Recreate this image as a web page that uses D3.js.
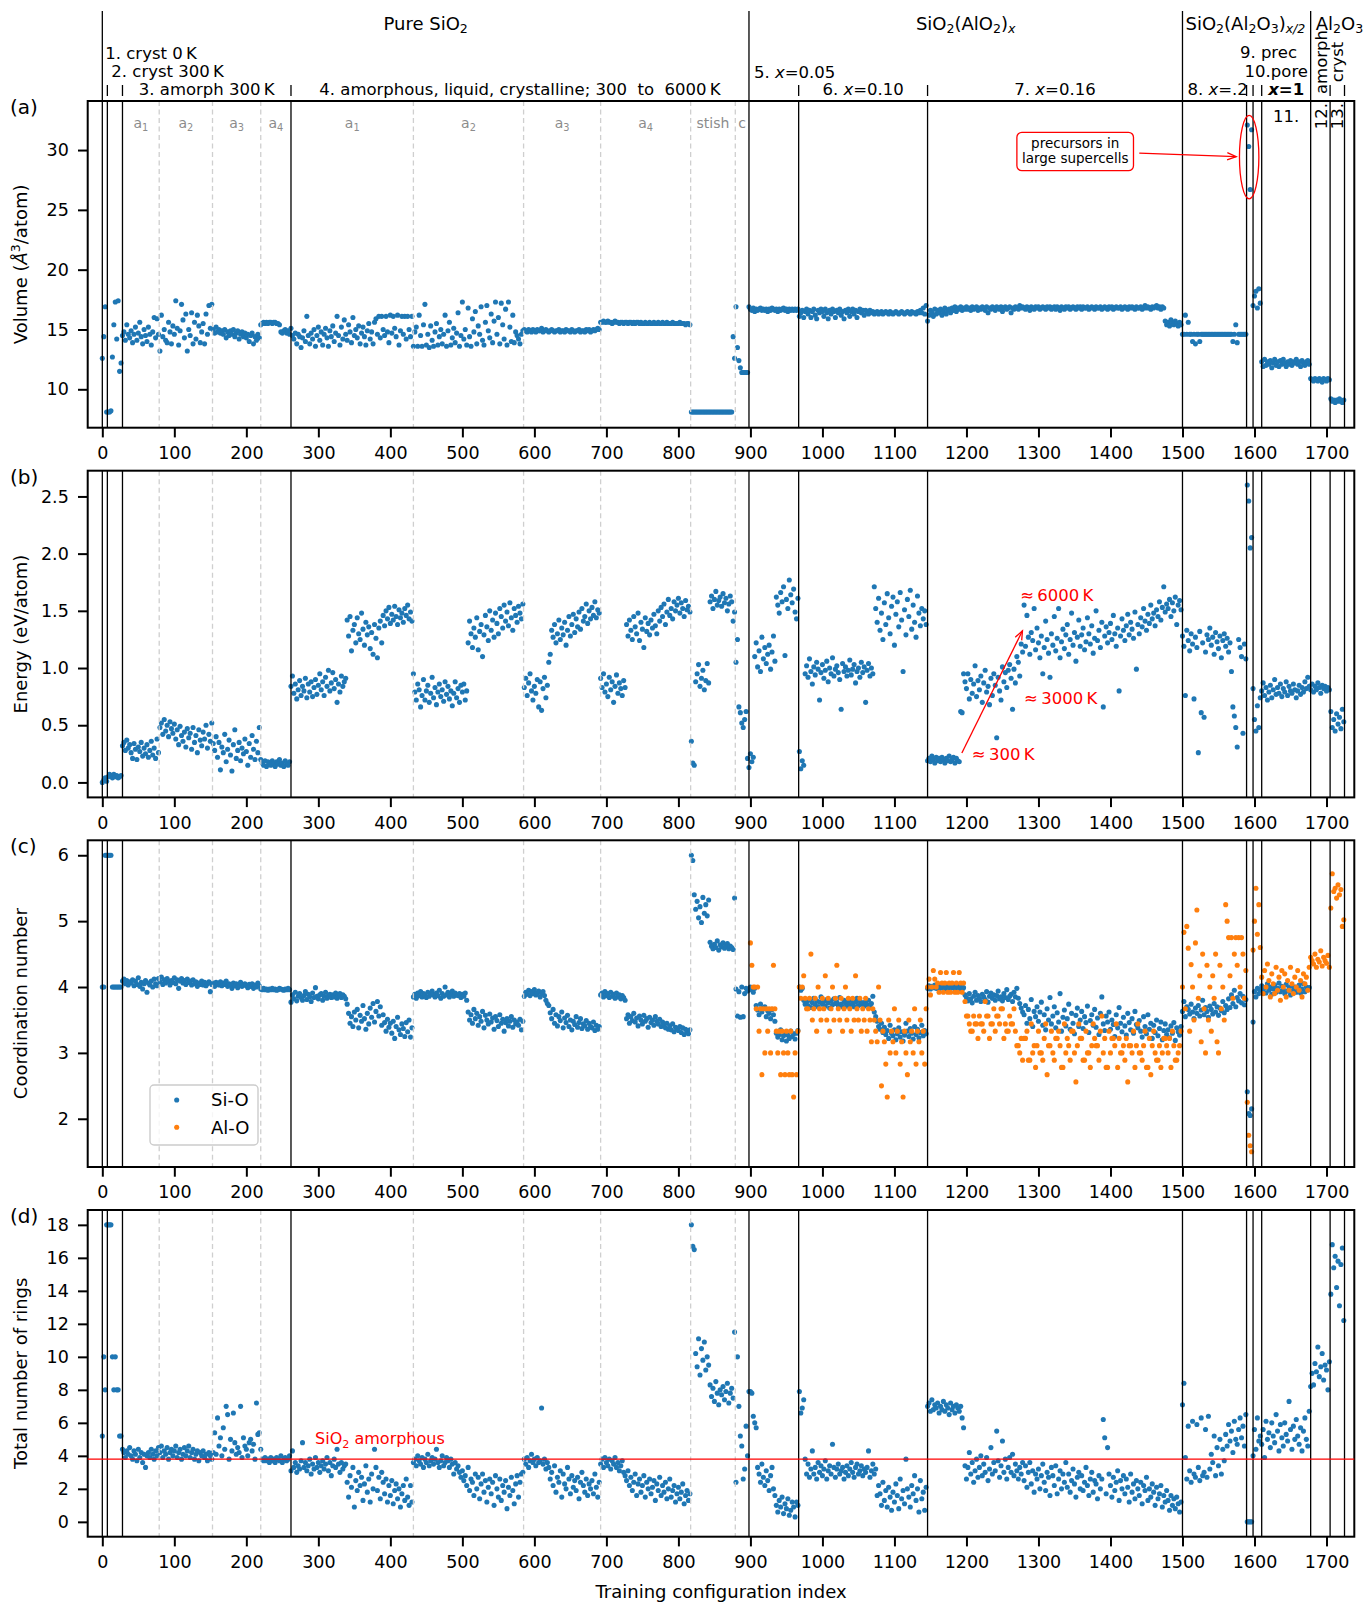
<!DOCTYPE html>
<html>
<head>
<meta charset="utf-8">
<script src="https://cdn.jsdelivr.net/npm/d3@7"></script>
<style>
  html, body { margin: 0; padding: 0; background: #fff; }
  svg { display: block; font-family: "DejaVu Sans", sans-serif; }
</style>
</head>
<body>
<svg id="chart" width="1370" height="1602"></svg>
<script>
// Values, one value every STEP configuration indices.
const STEP = 2;

const xTicks = [0, 100, 200, 300, 400, 500, 600, 700, 800, 900, 1000, 1100, 1200, 1300, 1400, 1500, 1600, 1700];
const volTicks = [10, 15, 20, 25, 30];
const energyTicks = [0, 0.5, 1.0, 1.5, 2.0, 2.5];
const coordTicks = [2, 3, 4, 5, 6];
const ringTicks = [0, 2, 4, 6, 8, 10, 12, 14, 16, 18];

// section boundaries (training configuration index)
const solidLines = [0, 7, 28, 262, 898, 967, 1146, 1500, 1589, 1598, 1610, 1678, 1705, 1725];
const dashedLines = [79, 153, 220, 432, 585, 692, 817, 879];
const longHeaderLines = [0, 898, 1500, 1678];

// volume (Å^3/atom), index 0..1724
const volume = [
/*   0 */ 12.6,14.4,16.9,8.1,8.1,8.1,8.2,12.7,15.4,17.3,
/*  20 */ 14.2,17.4,11.5,12.2,14.5,14.8,14.1,15.4,14.6,14.3,
/*  40 */ 14.9,13.9,14.6,15.2,14.1,14.7,15.6,14.4,13.8,15.0,
/*  60 */ 14.5,14.0,15.2,14.6,13.7,14.8,16.0,14.3,15.9,14.6,
/*  80 */ 13.2,16.2,14.4,15.0,14.1,13.9,15.6,14.8,13.8,15.3,
/* 100 */ 14.6,17.4,15.1,13.7,14.9,17.1,15.8,14.3,16.3,13.2,
/* 120 */ 15.0,14.5,16.4,13.8,15.6,14.2,16.2,15.3,13.9,14.8,
/* 140 */ 15.5,13.8,16.3,14.6,17.0,15.1,17.1,15.0,14.7,15.2,
/* 160 */ 14.8,15.0,14.7,14.9,14.6,15.0,14.3,14.8,14.5,14.9,
/* 180 */ 14.6,15.0,14.4,14.7,14.9,14.2,14.6,14.8,14.4,14.7,
/* 200 */ 14.3,14.6,14.0,14.5,14.7,13.8,14.4,14.1,14.6,14.3,
/* 220 */ 15.4,15.5,15.6,15.5,15.6,15.5,15.6,15.6,15.5,15.6,
/* 240 */ 15.6,15.5,15.5,15.4,14.8,14.7,14.9,15.0,14.7,14.9,
/* 260 */ 14.6,15.1,14.5,14.2,14.7,13.8,14.6,14.4,13.5,14.3,
/* 280 */ 14.9,14.0,16.1,14.5,13.8,14.7,14.2,15.0,13.6,14.5,
/* 300 */ 15.2,14.1,14.8,13.7,14.6,15.1,14.3,13.6,14.9,14.4,
/* 320 */ 15.3,14.0,14.7,16.1,14.5,13.7,15.2,14.2,15.8,14.6,
/* 340 */ 14.1,15.4,14.8,13.9,16.0,14.5,15.0,14.3,15.3,13.8,
/* 360 */ 14.7,15.2,14.4,13.7,14.9,15.5,14.2,14.8,13.8,15.6,
/* 380 */ 15.9,14.6,16.1,14.3,16.1,15.0,14.5,16.1,14.8,13.9,
/* 400 */ 16.2,14.7,16.1,15.1,14.4,16.2,13.7,14.9,16.1,14.6,
/* 420 */ 16.1,14.2,16.1,15.0,14.4,16.1,13.6,14.8,15.2,13.6,
/* 440 */ 16.2,14.5,13.6,15.4,17.1,13.7,14.6,13.5,15.3,14.1,
/* 460 */ 13.6,14.8,15.5,13.7,14.4,15.0,13.8,14.6,16.2,13.6,
/* 480 */ 14.9,15.6,13.7,14.3,15.1,13.9,14.7,16.4,13.6,14.5,
/* 500 */ 17.3,14.2,15.0,13.7,16.8,14.4,13.6,15.9,14.8,16.5,
/* 520 */ 13.8,15.3,14.6,16.9,14.1,13.7,15.6,17.0,14.9,14.3,
/* 540 */ 16.3,13.9,15.7,17.3,14.6,16.0,13.8,17.2,15.4,14.2,
/* 560 */ 16.7,13.7,17.3,15.2,14.0,16.2,13.9,14.8,14.5,14.2,
/* 580 */ 13.8,14.6,14.9,15.0,14.9,14.8,15.0,14.9,14.8,15.0,
/* 600 */ 14.9,14.8,15.0,14.9,14.9,15.1,14.8,14.9,15.0,14.9,
/* 620 */ 14.8,14.9,15.0,14.9,14.8,14.9,14.9,15.0,14.8,14.9,
/* 640 */ 14.9,14.8,15.0,14.9,14.9,14.8,15.0,14.9,14.8,14.9,
/* 660 */ 14.9,15.0,14.8,14.9,14.9,14.8,15.0,14.9,15.0,14.8,
/* 680 */ 14.9,15.0,14.9,15.0,15.1,15.0,15.6,15.6,15.7,15.6,
/* 700 */ 15.6,15.7,15.6,15.6,15.5,15.6,15.7,15.6,15.6,15.5,
/* 720 */ 15.6,15.6,15.5,15.6,15.6,15.5,15.6,15.6,15.5,15.6,
/* 740 */ 15.5,15.6,15.6,15.5,15.6,15.5,15.5,15.6,15.5,15.5,
/* 760 */ 15.6,15.5,15.5,15.6,15.5,15.5,15.6,15.5,15.5,15.6,
/* 780 */ 15.5,15.5,15.6,15.5,15.5,15.5,15.6,15.5,15.5,15.5,
/* 800 */ 15.5,15.6,15.5,15.5,15.5,15.4,15.5,15.5,15.4,8.1,
/* 820 */ 8.1,8.1,8.1,8.1,8.1,8.1,8.1,8.1,8.1,8.1,
/* 840 */ 8.1,8.1,8.1,8.1,8.1,8.1,8.1,8.1,8.1,8.1,
/* 860 */ 8.1,8.1,8.1,8.1,8.1,8.1,8.1,8.1,14.4,12.6,
/* 880 */ 16.9,13.5,12.4,11.8,11.4,11.4,11.4,11.4,11.4,16.9,
/* 900 */ 16.7,16.6,16.8,16.5,16.7,16.6,16.7,16.8,16.6,16.7,
/* 920 */ 16.6,16.7,16.5,16.7,16.6,16.8,16.7,16.6,16.7,16.5,
/* 940 */ 16.7,16.6,16.7,16.8,16.6,16.7,16.5,16.7,16.6,16.7,
/* 960 */ 16.6,16.7,16.6,16.7,16.1,16.4,16.6,16.0,16.5,16.7,
/* 980 */ 16.3,16.6,16.0,16.5,16.7,16.2,15.9,16.6,16.4,16.7,
/*1000 */ 16.5,16.1,16.7,16.4,15.9,16.6,16.3,16.7,16.5,16.0,
/*1020 */ 16.6,16.4,16.7,16.2,16.5,15.9,16.6,16.4,16.7,16.1,
/*1040 */ 16.5,16.7,16.3,16.6,16.0,16.5,16.7,16.4,16.6,16.2,
/*1060 */ 16.6,16.5,16.3,16.6,16.4,16.5,16.3,16.4,16.5,16.3,
/*1080 */ 16.4,16.5,16.3,16.4,16.5,16.4,16.3,16.5,16.4,16.3,
/*1100 */ 16.4,16.5,16.4,16.3,16.4,16.5,16.4,16.3,16.4,16.5,
/*1120 */ 16.4,16.3,16.5,16.4,16.4,16.3,16.5,16.4,16.6,16.4,
/*1140 */ 16.8,16.3,17.0,15.7,16.2,16.6,16.4,16.1,16.7,16.3,
/*1160 */ 16.6,16.4,16.7,16.2,16.5,16.8,16.3,16.6,16.7,16.4,
/*1180 */ 16.8,16.6,16.9,16.5,16.8,16.7,16.9,16.6,16.8,16.7,
/*1200 */ 16.9,16.7,16.8,16.6,16.9,16.7,16.8,16.9,16.6,16.8,
/*1220 */ 16.7,16.9,16.8,16.6,16.9,16.4,16.8,16.7,16.9,16.8,
/*1240 */ 16.6,16.9,16.8,16.7,16.9,16.5,16.8,16.9,16.7,16.8,
/*1260 */ 16.9,16.4,16.8,16.7,16.9,16.8,16.7,17.0,16.8,16.9,
/*1280 */ 16.8,16.7,16.9,16.8,16.6,16.9,16.8,16.7,16.9,16.8,
/*1300 */ 16.9,16.7,16.8,16.9,16.8,16.7,16.9,16.8,16.9,16.7,
/*1320 */ 16.8,16.9,16.7,16.9,16.8,16.6,16.9,16.8,16.7,16.9,
/*1340 */ 16.8,16.9,16.7,16.8,16.9,16.8,16.7,16.9,16.8,16.9,
/*1360 */ 16.7,16.9,16.8,16.8,16.9,16.7,16.8,16.9,16.8,16.7,
/*1380 */ 16.9,16.8,16.8,16.9,16.7,16.8,16.9,16.8,16.7,16.9,
/*1400 */ 16.8,16.9,16.7,16.8,16.9,16.8,16.8,16.9,16.7,16.8,
/*1420 */ 16.9,16.8,16.7,16.9,16.8,16.9,16.8,16.7,16.9,16.8,
/*1440 */ 16.8,16.9,16.7,16.8,17.0,16.8,16.9,16.8,16.7,16.9,
/*1460 */ 16.8,16.9,17.0,16.8,16.9,16.7,16.9,16.8,15.7,15.4,
/*1480 */ 15.6,15.3,15.8,15.5,15.4,15.7,15.5,15.3,15.6,15.4,
/*1500 */ 14.6,14.6,16.2,14.6,15.6,14.6,14.6,14.0,14.6,13.8,
/*1520 */ 14.6,14.6,14.0,14.6,14.6,14.6,14.6,14.6,14.6,14.6,
/*1540 */ 14.6,14.6,14.6,14.6,14.6,14.6,14.6,14.6,14.6,14.6,
/*1560 */ 14.6,14.6,14.6,14.6,14.6,14.0,14.6,15.4,13.9,14.6,
/*1580 */ 14.6,14.6,14.6,14.6,14.6,32.1,30.3,26.7,31.7,17.0,
/*1600 */ 17.8,18.2,16.8,18.4,17.2,12.3,11.9,12.5,12.0,12.3,
/*1620 */ 12.1,12.4,11.8,12.2,12.5,12.0,12.3,11.9,12.4,12.1,
/*1640 */ 12.5,12.2,11.9,12.3,12.1,12.4,12.0,12.3,12.2,12.5,
/*1660 */ 12.1,12.3,11.9,12.4,12.2,12.0,12.3,12.4,12.1,10.9,
/*1680 */ 10.8,10.7,10.9,10.8,10.7,10.9,10.8,10.6,10.9,10.8,
/*1700 */ 10.7,10.9,10.8,9.2,9.0,9.1,8.9,9.1,9.0,9.2,
/*1720 */ 9.0,8.9,9.1
];

// energy (eV/atom), index 0..1724
const energy = [
/*   0 */ 0.00,0.02,0.04,0.01,0.05,0.07,0.06,0.04,0.07,0.05,
/*  20 */ 0.06,0.04,0.05,0.06,0.32,0.35,0.28,0.37,0.30,0.33,
/*  40 */ 0.26,0.21,0.34,0.29,0.20,0.31,0.27,0.35,0.23,0.30,
/*  60 */ 0.25,0.33,0.22,0.28,0.36,0.24,0.30,0.21,0.38,0.26,
/*  80 */ 0.48,0.52,0.42,0.55,0.45,0.50,0.40,0.53,0.47,0.43,
/* 100 */ 0.51,0.38,0.46,0.33,0.49,0.41,0.36,0.44,0.31,0.47,
/* 120 */ 0.39,0.43,0.29,0.48,0.35,0.41,0.26,0.46,0.37,0.32,
/* 140 */ 0.44,0.38,0.50,0.30,0.42,0.36,0.52,0.34,0.28,0.40,
/* 160 */ 0.22,0.35,0.11,0.31,0.26,0.42,0.18,0.29,0.37,0.24,
/* 180 */ 0.10,0.33,0.46,0.21,0.28,0.35,0.19,0.30,0.25,0.38,
/* 200 */ 0.27,0.15,0.34,0.22,0.41,0.29,0.20,0.36,0.26,0.48,
/* 220 */ 0.20,0.17,0.15,0.19,0.14,0.18,0.16,0.15,0.19,0.17,
/* 240 */ 0.14,0.18,0.16,0.20,0.15,0.17,0.14,0.19,0.16,0.15,
/* 260 */ 0.18,0.84,0.93,0.78,0.86,0.73,0.81,0.89,0.76,0.84,
/* 280 */ 0.80,0.91,0.74,0.86,0.79,0.88,0.75,0.83,0.90,0.77,
/* 300 */ 0.85,0.95,0.81,0.88,0.76,0.92,0.84,0.98,0.80,0.87,
/* 320 */ 0.96,0.82,0.90,0.70,0.86,0.79,0.93,0.84,0.88,0.91,
/* 340 */ 1.42,1.28,1.45,1.15,1.33,1.38,1.22,1.44,1.30,1.25,
/* 360 */ 1.48,1.34,1.20,1.40,1.29,1.36,1.17,1.31,1.12,1.38,
/* 380 */ 1.26,1.09,1.35,1.41,1.22,1.46,1.37,1.50,1.43,1.53,
/* 400 */ 1.39,1.47,1.42,1.54,1.45,1.38,1.51,1.44,1.48,1.40,
/* 420 */ 1.52,1.46,1.55,1.43,1.49,1.41,0.95,0.79,0.72,0.86,
/* 440 */ 0.81,0.66,0.76,0.90,0.72,0.80,0.85,0.70,0.78,0.92,
/* 460 */ 0.74,0.83,0.68,0.79,0.86,0.75,0.81,0.71,0.88,0.77,
/* 480 */ 0.84,0.73,0.80,0.67,0.78,0.88,0.74,0.82,0.70,0.85,
/* 500 */ 0.79,0.86,0.72,0.80,1.22,1.41,1.30,1.18,1.35,1.27,
/* 520 */ 1.44,1.16,1.32,1.38,1.10,1.29,1.46,1.36,1.24,1.50,
/* 540 */ 1.33,1.42,1.27,1.48,1.39,1.30,1.52,1.45,1.35,1.55,
/* 560 */ 1.41,1.49,1.37,1.57,1.44,1.33,1.52,1.46,1.40,1.54,
/* 580 */ 1.48,1.43,1.56,0.83,0.91,0.76,0.87,0.95,0.80,0.72,
/* 600 */ 0.84,0.78,0.90,0.66,0.88,0.63,0.82,0.92,0.74,0.85,
/* 620 */ 1.05,1.12,1.33,1.27,1.38,1.22,1.30,1.42,1.25,1.35,
/* 640 */ 1.29,1.40,1.20,1.33,1.45,1.28,1.38,1.47,1.31,1.43,
/* 660 */ 1.36,1.49,1.34,1.52,1.41,1.45,1.56,1.39,1.50,1.43,
/* 680 */ 1.53,1.46,1.58,1.44,1.51,1.48,0.91,0.83,0.95,0.79,
/* 700 */ 0.86,0.75,0.92,0.81,0.88,0.70,0.84,0.94,0.78,0.87,
/* 720 */ 0.82,0.76,0.89,0.83,1.38,1.28,1.42,1.33,1.25,1.45,
/* 740 */ 1.36,1.30,1.48,1.24,1.40,1.34,1.18,1.44,1.32,1.39,
/* 760 */ 1.29,1.42,1.35,1.47,1.37,1.30,1.50,1.41,1.53,1.45,
/* 780 */ 1.56,1.38,1.49,1.60,1.46,1.52,1.43,1.58,1.50,1.55,
/* 800 */ 1.61,1.48,1.57,1.52,1.45,1.59,1.51,1.54,1.49,0.36,
/* 820 */ 0.17,0.15,0.88,0.95,1.03,0.84,0.91,0.98,0.81,0.89,
/* 840 */ 1.04,0.87,1.58,1.63,1.52,1.60,1.67,1.55,1.59,1.62,
/* 860 */ 1.54,1.65,1.57,1.61,1.50,1.56,1.63,1.58,1.41,1.49,
/* 880 */ 1.05,1.25,0.66,0.61,0.52,0.48,0.55,0.62,0.21,0.13,
/* 900 */ 0.25,0.18,0.22,1.10,1.22,1.01,1.15,0.97,1.27,1.08,
/* 920 */ 1.18,1.04,1.12,1.20,0.99,1.14,1.28,1.06,1.62,1.55,
/* 940 */ 1.48,1.66,1.58,1.71,1.11,1.60,1.52,1.77,1.64,1.57,
/* 960 */ 1.69,1.49,1.43,1.61,0.27,0.12,0.19,0.15,0.95,1.02,
/* 980 */ 0.92,1.08,0.97,0.86,1.01,0.94,1.05,0.99,0.72,0.96,
/*1000 */ 1.03,0.91,0.98,1.06,0.88,1.00,0.95,1.09,0.93,0.99,
/*1020 */ 1.02,0.96,0.90,0.64,1.04,0.97,1.01,0.93,0.98,1.07,
/*1040 */ 0.94,0.99,1.03,0.87,0.97,1.00,0.92,1.05,0.96,1.01,
/*1060 */ 0.70,0.98,1.04,0.93,1.00,0.95,1.71,1.52,1.40,1.61,
/*1080 */ 1.33,1.48,1.25,1.57,1.38,1.65,1.44,1.30,1.54,1.62,
/*1100 */ 1.20,1.47,1.58,1.36,1.66,1.42,0.97,1.51,1.29,1.60,
/*1120 */ 1.45,1.68,1.34,1.55,1.40,1.27,1.63,1.48,1.37,1.52,
/*1140 */ 1.43,1.50,1.38,0.19,0.21,0.18,0.23,0.20,0.17,0.22,
/*1160 */ 0.19,0.21,0.18,0.22,0.20,0.17,0.21,0.19,0.23,0.18,
/*1180 */ 0.20,0.22,0.17,0.21,0.19,0.18,0.62,0.61,0.95,0.88,
/*1200 */ 0.82,0.95,0.73,0.90,0.78,0.86,1.02,0.75,0.89,0.81,
/*1220 */ 0.93,0.70,0.87,0.98,0.79,0.84,0.68,0.91,0.76,0.95,
/*1240 */ 0.85,0.39,0.92,0.80,0.72,1.01,0.88,0.96,0.83,0.98,
/*1260 */ 1.03,0.91,0.64,0.99,0.87,1.10,1.05,0.93,1.21,1.14,
/*1280 */ 1.55,1.19,1.46,1.27,1.12,1.31,1.24,1.52,1.16,1.35,
/*1300 */ 1.22,1.09,1.28,0.95,1.18,1.41,1.25,1.13,0.92,1.30,
/*1320 */ 1.20,1.45,1.15,1.26,1.52,1.09,1.23,1.34,1.17,1.29,
/*1340 */ 1.38,1.12,1.25,1.48,1.20,1.31,1.06,1.27,1.42,1.19,
/*1360 */ 1.29,1.35,1.16,1.23,1.44,1.30,1.21,1.37,1.13,1.26,
/*1380 */ 1.50,1.24,1.33,1.18,1.40,0.66,1.28,1.36,1.22,1.31,
/*1400 */ 1.39,1.25,1.46,1.30,1.19,1.35,0.80,1.28,1.43,1.33,
/*1420 */ 1.24,1.37,1.47,1.29,1.40,1.34,1.26,1.49,0.99,1.38,
/*1440 */ 1.30,1.44,1.36,1.52,1.41,1.33,1.47,1.39,1.55,1.43,
/*1460 */ 1.48,1.37,1.51,1.45,1.58,1.42,1.53,1.71,1.49,1.56,
/*1480 */ 1.52,1.60,1.45,1.57,1.50,1.62,1.38,1.55,1.59,1.51,
/*1500 */ 1.28,1.19,0.76,1.33,1.24,1.15,1.30,1.21,0.73,1.27,
/*1520 */ 1.18,0.26,1.32,0.61,1.22,0.57,1.14,1.29,1.25,1.35,
/*1540 */ 1.20,1.27,1.12,1.31,1.23,1.17,1.28,1.09,1.24,1.30,
/*1560 */ 1.19,1.26,1.14,1.22,0.97,0.66,0.58,0.48,0.31,1.25,
/*1580 */ 1.18,1.10,0.43,1.21,1.08,2.60,2.46,2.05,2.14,0.82,
/*1600 */ 0.55,0.45,0.67,0.48,0.74,0.80,0.87,0.76,0.83,0.72,
/*1620 */ 0.79,0.85,0.74,0.81,0.90,0.77,0.83,0.78,0.86,0.75,
/*1640 */ 0.82,0.79,0.88,0.76,0.84,0.80,0.78,0.86,0.81,0.74,
/*1660 */ 0.80,0.85,0.77,0.83,0.79,0.88,0.82,0.92,0.84,0.81,
/*1680 */ 0.86,0.79,0.84,0.81,0.87,0.83,0.78,0.85,0.82,0.84,
/*1700 */ 0.80,0.83,0.81,0.62,0.48,0.55,0.45,0.60,0.51,0.57,
/*1720 */ 0.47,0.64,0.53
];

// Si-O coordination number, index 0..1676
const coordSiO = [
/*   0 */ 4.00,4.00,6.00,6.00,6.00,6.00,6.00,4.00,4.00,4.00,
/*  20 */ 4.00,4.00,4.00,4.00,4.09,4.12,4.05,4.10,4.03,4.08,
/*  40 */ 4.06,4.11,4.02,4.09,4.04,4.14,4.01,4.07,3.97,4.05,
/*  60 */ 4.10,3.92,4.06,4.03,4.09,4.00,4.12,4.05,4.02,4.13,
/*  80 */ 4.08,4.15,4.04,4.11,4.06,4.13,4.09,4.03,4.10,4.07,
/* 100 */ 4.14,4.05,4.11,3.98,4.09,4.13,4.06,4.10,4.04,4.12,
/* 120 */ 4.07,4.09,4.03,4.11,4.05,4.08,4.01,4.06,4.04,4.09,
/* 140 */ 4.03,4.07,4.02,4.05,4.08,3.93,4.04,4.06,4.01,4.07,
/* 160 */ 4.05,4.03,4.08,4.02,4.06,4.04,4.09,4.01,4.05,4.03,
/* 180 */ 3.98,4.06,4.02,4.05,3.99,4.04,4.07,4.01,4.03,4.05,
/* 200 */ 4.02,3.99,4.04,4.01,4.05,3.98,4.03,4.00,4.06,4.02,
/* 220 */ 3.97,3.96,3.98,3.96,3.97,3.95,3.97,3.96,3.98,3.96,
/* 240 */ 3.97,3.95,3.96,3.98,3.97,3.96,3.95,3.97,3.96,3.98,
/* 260 */ 3.96,3.77,3.88,3.82,3.92,3.79,3.86,3.90,3.84,3.80,
/* 280 */ 3.87,3.93,3.81,3.89,3.85,3.78,3.91,3.84,3.99,3.86,
/* 300 */ 3.82,3.88,3.90,3.80,3.86,3.92,3.83,3.87,3.89,3.84,
/* 320 */ 3.88,3.85,3.91,3.83,3.87,3.90,3.84,3.88,3.86,3.82,
/* 340 */ 3.74,3.60,3.45,3.55,3.40,3.62,3.50,3.66,3.38,3.57,
/* 360 */ 3.48,3.72,3.52,3.36,3.60,3.44,3.68,3.54,3.75,3.47,
/* 380 */ 3.63,3.78,3.56,3.70,3.42,3.58,3.46,3.33,3.51,3.39,
/* 400 */ 3.45,3.30,3.48,3.22,3.40,3.54,3.35,3.28,3.44,3.37,
/* 420 */ 3.25,3.46,3.32,3.50,3.24,3.38,3.85,3.89,3.83,3.91,
/* 440 */ 3.87,3.93,3.85,3.90,3.88,3.84,3.92,3.86,3.89,3.94,
/* 460 */ 3.88,3.85,3.91,3.87,3.95,3.83,3.90,3.86,4.00,3.88,
/* 480 */ 3.92,3.85,3.89,3.94,3.86,3.91,3.88,3.87,3.90,3.84,
/* 500 */ 3.89,3.86,3.91,3.80,3.62,3.50,3.58,3.45,3.66,3.52,
/* 520 */ 3.60,3.42,3.55,3.48,3.63,3.38,3.57,3.50,3.44,3.59,
/* 540 */ 3.47,3.53,3.36,3.55,3.49,3.40,3.58,3.45,3.51,3.33,
/* 560 */ 3.46,3.52,3.41,3.48,3.55,3.39,3.50,3.44,3.47,3.42,
/* 580 */ 3.51,3.35,3.48,3.86,3.92,3.89,3.95,3.87,3.93,3.90,
/* 600 */ 3.96,3.88,3.91,3.94,3.85,3.90,3.93,3.87,3.80,3.75,
/* 620 */ 3.72,3.61,3.52,3.66,3.45,3.58,3.41,3.55,3.49,3.62,
/* 640 */ 3.38,3.53,3.46,3.57,3.40,3.50,3.35,3.48,3.43,3.55,
/* 660 */ 3.39,3.46,3.52,3.37,3.44,3.41,3.49,3.36,3.45,3.40,
/* 680 */ 3.38,3.47,3.34,3.42,3.36,3.40,3.88,3.91,3.85,3.93,
/* 700 */ 3.87,3.90,3.84,3.92,3.86,3.89,3.83,3.91,3.85,3.88,
/* 720 */ 3.82,3.87,3.84,3.80,3.52,3.58,3.45,3.55,3.49,3.60,
/* 740 */ 3.47,3.53,3.41,3.56,3.50,3.44,3.57,3.48,3.52,3.39,
/* 760 */ 3.54,3.46,3.50,3.42,3.55,3.48,3.44,3.51,3.40,3.47,
/* 780 */ 3.43,3.38,3.45,3.36,3.41,3.35,3.44,3.32,3.39,3.37,
/* 800 */ 3.34,3.40,3.31,3.38,3.28,3.36,3.33,3.29,3.35,6.00,
/* 820 */ 5.92,5.40,5.18,5.30,5.05,5.22,4.98,5.36,5.12,5.25,
/* 840 */ 5.08,5.32,4.68,4.62,4.58,4.65,4.60,4.70,4.56,4.64,
/* 860 */ 4.61,4.67,4.59,4.63,4.66,4.58,4.62,4.60,4.57,5.35,
/* 880 */ 3.97,3.56,3.93,3.54,4.00,3.55,3.90,3.98,3.94,3.97,
/* 900 */ 4.00,3.96,3.92,3.98,3.72,3.65,3.58,3.74,3.62,3.68,
/* 920 */ 3.70,3.55,3.64,3.60,3.52,3.66,3.58,3.48,3.30,3.24,
/* 940 */ 3.28,3.35,3.20,3.26,3.31,3.18,3.27,3.22,3.33,3.25,
/* 960 */ 3.29,3.21,3.30,3.34,4.00,3.95,3.98,3.80,3.74,3.78,
/* 980 */ 3.72,3.80,3.69,3.76,3.83,3.73,3.79,3.70,3.77,3.85,
/*1000 */ 3.74,3.78,3.71,3.81,3.76,3.68,3.79,3.73,3.82,3.75,
/*1020 */ 3.77,3.72,3.84,3.74,3.70,3.80,3.76,3.71,3.78,3.73,
/*1040 */ 3.81,3.75,3.70,3.77,3.83,3.72,3.79,3.74,3.76,3.71,
/*1060 */ 3.78,3.73,3.80,3.69,3.75,3.86,3.62,3.55,3.48,3.40,
/*1080 */ 3.36,3.45,3.31,3.39,3.28,3.34,3.22,3.42,3.30,3.26,
/*1100 */ 3.35,3.20,3.29,3.38,3.24,3.32,3.18,3.27,3.45,3.33,
/*1120 */ 3.25,3.37,3.30,3.21,3.40,3.28,3.36,3.23,3.31,3.42,
/*1140 */ 3.26,3.34,3.29,3.98,4.02,3.97,4.01,3.99,4.03,3.98,
/*1160 */ 4.00,3.96,4.02,3.99,4.01,3.97,4.03,4.00,3.98,4.02,
/*1180 */ 3.99,4.01,3.97,4.00,4.02,3.98,4.00,3.96,3.99,3.88,
/*1200 */ 3.84,3.79,3.90,3.82,3.76,3.86,3.92,3.80,3.87,3.83,
/*1220 */ 3.78,3.89,3.85,3.81,3.93,3.77,3.86,3.91,3.83,3.88,
/*1240 */ 3.80,3.87,3.94,3.82,3.85,3.79,3.90,3.84,3.96,3.81,
/*1260 */ 3.86,3.89,3.78,3.92,3.85,3.98,3.83,3.75,3.68,3.62,
/*1280 */ 3.58,3.72,3.45,3.66,3.52,3.81,3.40,3.63,3.55,3.70,
/*1300 */ 3.48,3.62,3.77,3.42,3.58,3.35,3.67,3.50,3.84,3.44,
/*1320 */ 3.56,3.70,3.38,3.61,3.47,3.90,3.33,3.54,3.65,3.41,
/*1340 */ 3.52,3.74,3.36,3.60,3.45,3.29,3.57,3.68,3.40,3.50,
/*1360 */ 3.63,3.37,3.55,3.46,3.71,3.31,3.49,3.58,3.42,3.66,
/*1380 */ 3.39,3.53,3.28,3.60,3.85,3.44,3.34,3.56,3.47,3.62,
/*1400 */ 3.36,3.50,3.43,3.25,3.58,3.38,3.69,3.45,3.32,3.54,
/*1420 */ 3.41,3.27,3.60,3.46,3.35,3.52,3.30,3.63,3.43,3.38,
/*1440 */ 3.49,3.33,3.24,3.55,3.40,3.29,3.58,3.36,3.45,3.22,
/*1460 */ 3.42,3.31,3.50,3.26,3.37,3.47,3.20,3.34,3.44,3.28,
/*1480 */ 3.35,3.23,3.41,3.30,3.46,3.19,3.38,3.32,3.27,3.40,
/*1500 */ 3.63,3.78,3.55,3.70,3.66,3.59,3.74,3.62,3.52,3.68,
/*1520 */ 3.60,3.72,3.56,3.65,3.80,3.58,3.69,3.63,3.54,3.71,
/*1540 */ 3.66,3.59,3.75,3.62,3.70,3.57,3.68,3.64,3.78,3.61,
/*1560 */ 3.72,3.66,3.82,3.69,3.88,3.75,3.95,3.70,3.84,3.79,
/*1580 */ 3.90,3.76,3.86,3.73,3.81,2.41,2.08,2.05,2.15,3.47,
/*1600 */ 3.93,3.85,3.98,3.90,3.96,4.02,3.94,3.99,3.91,4.05,
/*1620 */ 3.95,4.00,3.89,3.97,4.03,3.92,3.98,4.06,3.93,4.01,
/*1640 */ 3.96,3.90,4.04,3.94,3.99,3.88,4.02,3.95,4.00,3.92,
/*1660 */ 3.98,4.03,3.91,3.97,4.05,3.93,4.00,3.96,3.99
];

// Al-O coordination number, index 900..1724
const alStart = 900;
const coordAlO = [
/* 900 */ 4.67,4.33,4.00,4.00,3.67,4.00,3.33,3.67,2.67,3.67,
/* 920 */ 3.00,3.67,3.33,3.67,3.00,3.67,4.33,3.67,3.33,3.00,
/* 940 */ 3.33,2.67,3.33,3.00,2.67,3.33,3.00,2.67,3.33,2.67,
/* 960 */ 2.33,3.00,2.67,3.33,4.00,3.83,4.00,4.17,3.83,3.67,
/* 980 */ 3.67,3.83,4.50,3.50,3.67,3.83,3.33,4.00,3.67,3.50,
/*1000 */ 3.83,3.67,4.17,3.50,3.83,3.33,3.67,4.00,3.50,3.83,
/*1020 */ 4.33,3.67,3.50,3.83,3.33,3.67,4.00,3.50,3.83,3.67,
/*1040 */ 3.33,3.83,3.50,4.17,3.67,3.50,3.83,3.33,3.67,3.50,
/*1060 */ 3.83,3.33,3.67,3.50,3.17,3.67,3.50,3.33,3.17,4.00,
/*1080 */ 3.50,2.50,3.33,3.17,2.83,2.33,3.50,3.00,3.33,3.17,
/*1100 */ 3.67,3.00,3.33,3.50,2.83,3.17,2.33,3.33,3.00,2.67,
/*1120 */ 3.50,3.17,3.33,3.00,3.67,2.83,3.33,3.17,3.50,3.00,
/*1140 */ 3.33,2.83,3.67,4.00,4.12,3.88,4.00,4.25,4.12,4.00,
/*1160 */ 4.06,3.92,4.22,4.06,3.92,4.06,4.22,3.92,4.06,3.92,
/*1180 */ 4.06,4.22,3.92,4.06,3.92,4.22,4.06,3.92,4.06,3.78,
/*1200 */ 3.56,3.56,3.44,3.33,3.33,3.56,3.44,3.44,3.22,3.56,
/*1220 */ 3.44,3.44,3.33,3.78,3.56,3.56,3.22,3.44,3.44,3.67,
/*1240 */ 3.33,3.56,3.56,3.44,3.67,3.67,3.22,3.44,3.33,3.33,
/*1260 */ 3.56,3.44,3.44,3.67,3.33,3.11,3.11,3.00,3.22,2.89,
/*1280 */ 3.22,3.22,3.33,2.89,2.89,3.44,3.00,3.11,2.78,3.11,
/*1300 */ 3.33,3.00,3.00,2.89,3.22,3.44,2.67,3.11,3.11,3.33,
/*1320 */ 3.00,2.89,3.22,3.22,3.33,3.11,2.78,2.78,3.44,3.00,
/*1340 */ 3.22,3.11,2.89,3.33,3.33,3.00,2.56,3.11,3.44,3.22,
/*1360 */ 3.22,2.89,2.89,3.33,3.00,3.00,2.78,3.11,3.44,3.22,
/*1380 */ 3.11,3.11,2.89,3.33,3.56,3.00,3.22,2.78,2.78,3.33,
/*1400 */ 3.00,3.22,3.22,3.11,3.44,2.78,3.22,3.00,3.00,3.11,
/*1420 */ 2.89,3.22,2.56,3.11,3.11,3.00,3.33,2.78,3.11,3.44,
/*1440 */ 3.00,3.00,2.89,3.11,3.33,2.78,2.78,3.22,2.67,3.11,
/*1460 */ 3.33,3.00,2.89,2.89,3.11,2.78,3.00,3.22,3.22,3.11,
/*1480 */ 3.00,3.22,2.78,3.33,3.11,2.89,2.89,3.00,3.11,3.33,
/*1500 */ 4.00,4.83,3.67,4.92,4.59,3.33,4.34,4.00,3.50,4.67,
/*1520 */ 5.17,3.83,4.17,3.17,4.50,3.67,3.00,4.33,3.50,4.00,
/*1540 */ 3.33,4.17,3.83,4.50,3.17,3.00,4.33,3.67,4.00,3.50,
/*1560 */ 5.25,5.00,4.75,4.17,4.75,3.83,4.50,4.75,4.33,4.75,
/*1580 */ 4.00,4.75,4.50,3.83,4.25,2.25,1.75,1.59,1.50,4.56,
/*1600 */ 5.00,5.50,4.80,5.25,4.60,4.15,3.90,4.25,4.00,4.35,
/*1620 */ 4.10,3.85,4.20,4.05,3.90,4.30,3.95,4.15,3.80,4.25,
/*1640 */ 4.00,4.20,3.85,4.10,3.95,4.30,4.05,3.90,4.15,4.00,
/*1660 */ 4.25,3.95,4.10,3.85,4.20,4.05,4.15,3.95,4.30,4.45,
/*1680 */ 4.40,4.35,4.50,4.30,4.42,4.38,4.55,4.32,4.45,4.40,
/*1700 */ 4.36,4.48,4.30,5.20,5.72,5.45,5.50,5.35,5.55,5.40,
/*1720 */ 5.48,4.92,5.02
];

// total number of rings, index 0..1724
const rings = [
/*   0 */ 5.2,10.0,8.0,18.0,18.0,18.0,18.0,10.0,8.0,10.0,
/*  20 */ 8.0,8.0,5.2,5.2,4.4,4.2,3.9,4.3,4.1,4.5,
/*  40 */ 4.0,3.8,4.3,4.1,3.7,4.4,3.9,4.2,3.6,4.1,
/*  60 */ 3.3,4.0,4.2,3.9,4.4,4.1,3.8,4.3,4.0,4.5,
/*  80 */ 4.2,4.6,3.9,4.3,4.1,4.5,3.8,4.2,4.4,4.0,
/* 100 */ 4.3,4.6,3.9,4.2,4.4,3.8,4.1,4.5,4.0,4.3,
/* 120 */ 4.6,3.9,4.2,4.4,3.8,4.1,4.3,3.7,4.2,4.0,
/* 140 */ 4.3,3.9,4.1,3.7,4.2,4.0,3.8,4.2,5.4,4.1,
/* 160 */ 6.3,4.6,5.1,4.0,5.7,4.4,7.0,6.5,3.8,5.0,
/* 180 */ 4.3,6.6,4.8,4.1,4.5,4.2,7.0,3.9,5.1,4.6,
/* 200 */ 4.4,4.0,4.8,5.0,4.3,4.7,3.8,7.2,5.3,5.4,
/* 220 */ 4.4,3.8,3.7,3.9,3.7,3.8,3.6,3.9,3.7,3.8,
/* 240 */ 3.6,3.9,3.8,3.7,4.0,3.6,3.8,3.9,3.7,3.8,
/* 260 */ 4.0,3.1,4.3,3.3,3.6,3.0,3.4,3.2,3.7,4.8,
/* 280 */ 3.3,3.6,3.1,3.4,3.8,2.9,3.5,3.2,3.9,3.3,
/* 300 */ 3.6,3.0,3.4,3.7,3.2,3.5,3.9,3.1,3.6,2.8,
/* 320 */ 3.4,3.8,3.3,4.4,3.5,3.0,3.6,3.2,3.4,3.5,
/* 340 */ 2.4,1.5,2.8,2.1,3.3,0.9,2.5,1.9,3.0,2.2,
/* 360 */ 2.7,1.3,2.3,3.4,1.8,2.6,1.2,2.9,2.0,4.4,
/* 380 */ 3.3,1.9,2.7,1.4,3.0,2.4,1.7,2.6,1.2,2.2,
/* 400 */ 1.6,2.5,1.1,1.9,2.3,1.4,2.0,0.9,1.7,2.2,
/* 420 */ 1.3,2.6,1.5,1.0,2.2,1.2,3.6,3.8,3.4,4.0,
/* 440 */ 3.7,3.5,3.9,3.3,3.8,3.6,4.1,3.4,3.7,3.9,
/* 460 */ 3.5,3.8,4.4,3.6,3.3,3.7,4.0,3.4,3.6,3.9,
/* 480 */ 3.7,3.3,3.8,3.5,2.9,3.6,3.2,3.4,3.0,2.7,
/* 500 */ 3.1,2.5,2.8,2.2,3.3,1.9,2.6,2.4,1.6,2.9,
/* 520 */ 2.0,2.7,1.4,2.3,2.9,1.8,2.5,1.2,2.1,2.6,
/* 540 */ 1.7,2.4,1.0,2.8,2.0,1.5,2.6,1.3,2.2,1.8,
/* 560 */ 2.5,0.8,2.1,1.6,2.7,1.9,1.1,2.3,2.8,1.5,
/* 580 */ 2.4,2.9,3.0,3.8,3.5,3.9,3.3,3.7,4.1,3.6,
/* 600 */ 3.8,3.4,3.9,3.6,3.7,6.9,3.5,3.8,3.2,3.6,
/* 620 */ 3.3,2.6,3.0,2.2,3.4,1.8,2.7,2.4,3.1,1.5,
/* 640 */ 2.9,2.3,2.0,3.3,2.6,1.7,2.8,2.1,2.5,1.9,
/* 660 */ 2.7,1.4,2.4,3.0,2.2,1.8,2.6,1.6,2.3,2.0,
/* 680 */ 2.5,1.7,2.9,2.1,1.5,2.4,3.5,3.8,3.3,3.9,
/* 700 */ 3.6,3.4,3.8,3.2,3.7,3.5,3.9,3.3,3.6,3.1,
/* 720 */ 3.4,3.7,3.0,2.8,2.5,3.1,2.2,2.7,1.9,2.4,
/* 740 */ 2.9,1.6,2.3,2.6,1.8,2.2,2.8,1.5,2.4,2.0,
/* 760 */ 2.6,1.7,2.1,2.5,1.3,2.3,1.9,2.7,1.6,2.2,
/* 780 */ 1.8,2.4,1.4,2.0,2.6,1.5,1.9,2.2,1.2,1.7,
/* 800 */ 2.1,1.4,1.8,2.3,1.1,1.6,1.9,1.3,1.7,18.0,
/* 820 */ 16.7,16.5,10.2,9.4,11.1,8.9,10.5,9.8,10.9,9.2,
/* 840 */ 10.0,9.5,8.3,7.6,8.1,7.3,8.5,7.8,7.1,8.0,
/* 860 */ 7.7,8.2,7.4,7.9,8.4,7.2,7.8,8.1,7.5,11.5,
/* 880 */ 2.4,10.0,7.0,5.2,4.6,2.6,3.2,5.8,4.0,7.9,
/* 900 */ 7.9,7.8,6.4,6.0,5.7,3.3,2.9,2.4,3.5,2.7,
/* 920 */ 2.2,3.1,2.5,1.9,2.8,3.3,2.0,1.6,1.0,0.6,
/* 940 */ 1.3,0.9,1.5,0.5,1.1,0.8,1.4,0.4,0.7,1.2,
/* 960 */ 0.9,0.3,1.2,1.0,7.9,6.6,6.9,7.4,3.8,2.9,
/* 980 */ 3.5,2.7,3.2,4.3,2.9,3.3,2.6,3.6,3.0,3.4,
/*1000 */ 2.8,3.2,3.7,2.6,3.1,3.4,2.9,4.7,3.3,2.7,
/*1020 */ 3.2,3.5,2.9,3.1,3.3,2.6,3.0,3.4,2.8,3.2,
/*1040 */ 3.6,3.0,2.7,3.3,3.5,2.9,3.1,3.4,2.8,3.2,
/*1060 */ 3.0,3.3,4.3,2.7,3.1,3.5,2.9,3.2,1.6,2.2,
/*1080 */ 1.7,1.0,2.4,1.3,1.9,0.9,2.1,1.5,0.7,1.8,
/*1100 */ 1.2,2.3,1.6,0.8,2.6,1.4,1.9,1.1,3.8,2.0,
/*1120 */ 1.5,0.9,2.2,1.7,2.8,1.3,2.0,0.6,2.5,1.4,
/*1140 */ 1.8,0.7,2.1,7.0,7.2,6.7,7.4,6.8,7.1,6.9,
/*1160 */ 7.2,6.6,7.0,6.8,7.3,6.7,7.1,6.9,6.5,7.2,
/*1180 */ 6.8,7.0,6.6,7.1,6.9,6.7,7.0,6.3,5.7,3.4,
/*1200 */ 2.6,3.3,4.2,2.9,3.6,2.4,3.1,3.8,2.7,3.3,
/*1220 */ 4.0,2.8,3.5,3.0,3.9,2.5,3.2,4.5,2.9,3.6,
/*1240 */ 3.1,5.5,3.7,2.7,3.4,4.9,3.0,3.8,2.6,3.3,
/*1260 */ 3.9,3.0,4.1,2.8,3.5,3.1,2.6,3.3,2.9,3.6,
/*1280 */ 2.5,3.4,2.1,3.0,3.6,2.3,3.1,1.8,2.9,2.6,
/*1300 */ 3.2,2.0,2.8,3.5,2.4,1.9,3.0,2.7,1.6,3.3,
/*1320 */ 2.8,2.2,3.4,1.7,2.6,3.1,2.0,2.9,2.4,3.6,
/*1340 */ 2.1,2.9,1.8,2.5,3.2,2.3,1.5,2.7,3.0,2.0,
/*1360 */ 2.8,1.9,2.4,3.3,2.2,1.6,2.6,3.0,1.8,2.5,
/*1380 */ 2.3,1.4,2.8,2.0,2.6,6.2,5.1,1.7,4.5,2.9,
/*1400 */ 2.2,1.5,2.7,1.9,2.4,3.1,1.3,2.5,2.0,2.8,
/*1420 */ 1.7,2.6,2.1,1.2,2.9,1.8,2.3,1.4,2.5,2.0,
/*1440 */ 1.6,2.4,1.1,2.2,1.9,2.7,1.3,2.0,1.5,2.3,
/*1460 */ 1.8,1.0,2.1,1.4,1.7,2.2,0.9,1.6,1.2,1.9,
/*1480 */ 1.3,0.7,1.6,1.0,1.4,0.8,1.5,1.1,0.6,1.2,
/*1500 */ 7.1,8.4,3.9,2.6,5.8,3.1,2.4,6.1,2.9,2.7,
/*1520 */ 5.9,3.3,2.5,6.3,2.8,3.0,5.6,2.7,6.4,3.2,
/*1540 */ 4.1,3.6,5.2,2.8,4.5,3.4,5.0,2.9,4.4,3.7,
/*1560 */ 5.3,4.6,5.9,4.9,5.5,4.2,6.1,5.0,4.7,5.6,
/*1580 */ 6.3,5.1,5.8,4.6,6.5,0.0,0.0,0.0,0.0,4.0,
/*1600 */ 5.6,4.4,6.3,4.9,5.2,4.7,5.6,3.9,6.1,5.0,
/*1620 */ 5.4,4.5,6.0,5.2,4.8,6.5,5.5,4.3,5.9,5.1,
/*1640 */ 4.6,6.0,5.3,4.9,7.3,5.6,4.4,5.8,5.0,6.2,
/*1660 */ 5.2,4.7,5.7,4.3,5.5,6.3,5.0,4.6,6.7,8.2,
/*1680 */ 9.0,8.3,9.6,9.1,10.6,8.8,9.4,10.2,8.6,9.5,
/*1700 */ 9.2,8.0,9.7,13.8,16.8,15.4,16.1,14.2,15.8,13.1,
/*1720 */ 15.6,16.6,12.2
];

const amorphousRings = 3.8;

(function () {
  const BLUE = '#1f77b4';
  const ORANGE = '#ff7f0e';
  const FONT = 17.5;
  const R = 2.55;

  const svg = d3.select('#chart');

  const x = d3.scaleLinear().domain([-20.3, 1738.6]).range([87.7, 1354.3]);
  const X0 = x.range()[0], X1 = x.range()[1];
  const PANEL_H = 326.7;

  const toPoints = (arr, start) => arr
    .map((v, k) => ({ i: start + k * STEP, v }))
    .filter((d) => d.v != null);

  // text with sub/superscript / italic / bold runs; style is a space separated list
  function rich(g, px, py, parts, opts) {
    opts = opts || {};
    const fs = opts.size || FONT;
    const t = g.append('text')
      .attr('x', px).attr('y', py)
      .attr('font-size', fs)
      .attr('fill', opts.color || '#000')
      .attr('text-anchor', opts.anchor || 'start');
    if (opts.transform) t.attr('transform', opts.transform);
    let shift = 0;
    parts.forEach((p) => {
      const s = typeof p === 'string' ? p : p[0];
      const k = typeof p === 'string' ? [] : p[1].split(' ');
      const ts = t.append('tspan').text(s);
      let target = 0;
      if (k.includes('sub')) target = 0.22 * fs;
      if (k.includes('sup')) target = -0.38 * fs;
      if (target !== shift) ts.attr('dy', target - shift);
      shift = target;
      if (k.includes('sub') || k.includes('sup')) ts.attr('font-size', fs * 0.7);
      if (k.includes('it')) ts.attr('font-style', 'italic');
      if (k.includes('bold')) ts.attr('font-weight', 'bold');
    });
    return t;
  }

  function arrow(g, x1, y1, x2, y2, color) {
    g.append('line')
      .attr('x1', x1).attr('y1', y1).attr('x2', x2).attr('y2', y2)
      .attr('stroke', color).attr('stroke-width', 1.3);
    const a = Math.atan2(y2 - y1, x2 - x1);
    const L = 9, W = 3.6;
    const p1 = [x2 - L * Math.cos(a) + W * Math.sin(a), y2 - L * Math.sin(a) - W * Math.cos(a)];
    const p2 = [x2 - L * Math.cos(a) - W * Math.sin(a), y2 - L * Math.sin(a) + W * Math.cos(a)];
    g.append('polyline')
      .attr('points', `${p1.join(',')} ${x2},${y2} ${p2.join(',')}`)
      .attr('fill', 'none').attr('stroke', color).attr('stroke-width', 1.3);
  }

  const panels = [
    {
      tag: '(a)', top: 101, domain: [6.79, 34.1], ticks: volTicks, fmt: (d) => d,
      ylabel: ['Volume (', ['Å', 'it'], ['3', 'sup'], '/atom)'],
      series: [{ pts: toPoints(volume, 0), color: BLUE }]
    },
    {
      tag: '(b)', top: 470.7, domain: [-0.131, 2.725], ticks: energyTicks, fmt: (d) => d.toFixed(1),
      ylabel: ['Energy (eV/atom)'],
      series: [{ pts: toPoints(energy, 0), color: BLUE }]
    },
    {
      tag: '(c)', top: 840.3, domain: [1.268, 6.227], ticks: coordTicks, fmt: (d) => d,
      ylabel: ['Coordination number'],
      series: [
        { pts: toPoints(coordSiO, 0), color: BLUE, name: 'Si-O' },
        { pts: toPoints(coordAlO, alStart), color: ORANGE, name: 'Al-O' }
      ]
    },
    {
      tag: '(d)', top: 1210, domain: [-0.9, 18.9], ticks: ringTicks, fmt: (d) => d,
      ylabel: ['Total number of rings'],
      series: [{ pts: toPoints(rings, 0), color: BLUE }]
    }
  ];

  panels.forEach((p) => {
    const y = d3.scaleLinear().domain(p.domain).range([p.top + PANEL_H, p.top]);
    p.y = y;
    const g = svg.append('g');

    // points
    p.series.forEach((s) => {
      g.append('g').selectAll('circle')
        .data(s.pts)
        .join('circle')
        .attr('cx', (d) => x(d.i))
        .attr('cy', (d) => y(d.v))
        .attr('r', R)
        .attr('fill', s.color);
    });

    // section lines
    g.append('g').selectAll('line')
      .data(dashedLines)
      .join('line')
      .attr('x1', (d) => x(d)).attr('x2', (d) => x(d))
      .attr('y1', p.top).attr('y2', p.top + PANEL_H)
      .attr('stroke', '#cfcfcf').attr('stroke-width', 1.3)
      .attr('stroke-dasharray', '5,3.5');
    g.append('g').selectAll('line')
      .data(solidLines)
      .join('line')
      .attr('x1', (d) => x(d)).attr('x2', (d) => x(d))
      .attr('y1', p.top).attr('y2', p.top + PANEL_H)
      .attr('stroke', '#000').attr('stroke-width', 1.3);

    // axes
    const xAxis = d3.axisBottom(x).tickValues(xTicks).tickFormat(d3.format('d'))
      .tickSize(9.7).tickPadding(9.2).tickSizeOuter(0);
    const yAxis = d3.axisLeft(y).tickValues(p.ticks).tickFormat(p.fmt)
      .tickSize(9.7).tickPadding(9.2).tickSizeOuter(0);
    const gx = g.append('g').attr('transform', `translate(0,${p.top + PANEL_H})`).call(xAxis);
    const gy = g.append('g').attr('transform', `translate(${X0},0)`).call(yAxis);
    [gx, gy].forEach((ax) => {
      ax.select('.domain').remove();
      ax.selectAll('line').attr('stroke', '#000').attr('stroke-width', 2);
      ax.selectAll('text')
        .attr('font-size', FONT)
        .attr('font-family', '"DejaVu Sans", sans-serif')
        .attr('fill', '#000');
    });

    g.append('rect')
      .attr('x', X0).attr('y', p.top)
      .attr('width', X1 - X0).attr('height', PANEL_H)
      .attr('fill', 'none').attr('stroke', '#000').attr('stroke-width', 2);

    // panel tag and y label
    g.append('text')
      .attr('x', 10).attr('y', p.top + 13)
      .attr('font-size', 20)
      .text(p.tag);
    const cy = p.top + PANEL_H / 2;
    rich(g, 0, 0, p.ylabel, { anchor: 'middle', size: 18, transform: `translate(26.5,${cy}) rotate(-90)` });
  });

  const [pa, pb, pc, pd] = panels;

  // ---- header above panel (a)
  const hdr = svg.append('g');
  hdr.selectAll('line.long')
    .data(longHeaderLines)
    .join('line')
    .attr('x1', (d) => x(d)).attr('x2', (d) => x(d))
    .attr('y1', 11).attr('y2', pa.top)
    .attr('stroke', '#000').attr('stroke-width', 1.3);
  hdr.selectAll('line.short')
    .data(solidLines.filter((d) => !longHeaderLines.includes(d)))
    .join('line')
    .attr('x1', (d) => x(d)).attr('x2', (d) => x(d))
    .attr('y1', 85).attr('y2', 96)
    .attr('stroke', '#000').attr('stroke-width', 1.3);

  const HS = 16.5;
  rich(hdr, x(449), 29.5, ['Pure SiO', ['2', 'sub']], { anchor: 'middle', size: 18 });
  rich(hdr, x(1199), 29.5, ['SiO', ['2', 'sub'], '(AlO', ['2', 'sub'], ')', ['x', 'sub it']], { anchor: 'middle', size: 18 });
  rich(hdr, x(1500) + 3, 29.5, ['SiO', ['2', 'sub'], '(Al', ['2', 'sub'], 'O', ['3', 'sub'], ')', ['x/2', 'sub it']], { size: 18 });
  rich(hdr, x(1678) + 5, 29.5, ['Al', ['2', 'sub'], 'O', ['3', 'sub']], { size: 18 });

  rich(hdr, x(0) + 3, 59, ['1. cryst 0\u2009K'], { size: HS });
  rich(hdr, x(7) + 4, 77, ['2. cryst 300\u2009K'], { size: HS });
  rich(hdr, x(145), 95, ['3. amorph 300\u2009K'], { anchor: 'middle', size: HS });
  rich(hdr, x(580), 95, ['4. amorphous, liquid, crystalline; 300\u00a0 to \u00a06000\u2009K'], { anchor: 'middle', size: HS });
  rich(hdr, x(898) + 5, 78, ['5. ', ['x', 'it'], '=0.05'], { size: HS });
  rich(hdr, x(1056.5), 95, ['6. ', ['x', 'it'], '=0.10'], { anchor: 'middle', size: HS });
  rich(hdr, x(1323), 95, ['7. ', ['x', 'it'], '=0.16'], { anchor: 'middle', size: HS });
  rich(hdr, x(1500) + 5, 95, ['8. ', ['x', 'it'], '=.2'], { size: HS });
  rich(hdr, 1297, 58, ['9. prec'], { anchor: 'end', size: HS });
  rich(hdr, 1308, 77, ['10.pore'], { anchor: 'end', size: HS });
  rich(hdr, x(1644), 95, [['x', 'it bold'], ['=1', 'bold']], { anchor: 'middle', size: HS });
  rich(hdr, 0, 0, ['amorph'], { anchor: 'middle', size: HS, transform: `translate(${x(1692) + 6},62) rotate(-90)` });
  rich(hdr, 0, 0, ['cryst'], { anchor: 'middle', size: HS, transform: `translate(${x(1715) + 6},62) rotate(-90)` });

  // labels inside panel (a)
  rich(hdr, x(1644), 122, ['11.'], { anchor: 'middle', size: HS });
  rich(hdr, 0, 0, ['12.'], { anchor: 'middle', size: HS, transform: `translate(${x(1692) + 6},116) rotate(-90)` });
  rich(hdr, 0, 0, ['13.'], { anchor: 'middle', size: HS, transform: `translate(${x(1715) + 6},116) rotate(-90)` });

  const subLabels = [
    [53.5, 'a', '1'], [116, 'a', '2'], [186.5, 'a', '3'], [241, 'a', '4'],
    [347, 'a', '1'], [508.5, 'a', '2'], [638.5, 'a', '3'], [754.5, 'a', '4'],
    [848, 'stish', ''], [888.5, 'c', '']
  ];
  subLabels.forEach(([i, a, s]) => {
    const parts = s ? [a, [s, 'sub']] : [a];
    rich(hdr, x(i), 127.5, parts, { anchor: 'middle', size: 14, color: '#8c8c8c' });
  });

  // precursor annotation in (a)
  const ann = svg.append('g');
  const bx = x(1351), by = pa.y(29.88);
  ann.append('rect')
    .attr('x', bx - 58.3).attr('y', by - 19.2)
    .attr('width', 116.6).attr('height', 38.4)
    .attr('rx', 5).attr('fill', '#fff')
    .attr('stroke', 'red').attr('stroke-width', 1.3);
  rich(ann, bx, by - 3, ['precursors in'], { anchor: 'middle', size: 13.5 });
  rich(ann, bx, by + 12, ['large supercells'], { anchor: 'middle', size: 13.5 });
  ann.append('ellipse')
    .attr('cx', x(1592.6)).attr('cy', pa.y(29.41))
    .attr('rx', 9.7).attr('ry', 41.7)
    .attr('fill', 'none').attr('stroke', 'red').attr('stroke-width', 1.3);
  arrow(ann, x(1440), pa.y(29.75), x(1574.6), pa.y(29.45), 'red');

  // temperature annotation in (b)
  arrow(ann, x(1193.6), pb.y(0.257), x(1277.8), pb.y(1.326), 'red');
  rich(ann, x(1207.5), pb.y(0.25) + 6, ['\u2248\u2009300\u2009K'], { size: 16.5, color: 'red' });
  rich(ann, x(1280), pb.y(0.74) + 6, ['\u2248\u20093000\u2009K'], { size: 16.5, color: 'red' });
  rich(ann, x(1274.6), pb.y(1.64) + 6, ['\u2248\u20096000\u2009K'], { size: 16.5, color: 'red' });

  // legend in (c)
  const lg = svg.append('g');
  lg.append('rect')
    .attr('x', 150).attr('y', 1085).attr('width', 108).attr('height', 60)
    .attr('rx', 4).attr('fill', '#fff').attr('fill-opacity', 0.8)
    .attr('stroke', '#cccccc').attr('stroke-width', 1.4);
  pc.series.forEach((s, k) => {
    const ly = 1100 + k * 27.3;
    lg.append('circle').attr('cx', 176.7).attr('cy', ly).attr('r', R).attr('fill', s.color);
    lg.append('text').attr('x', 211).attr('y', ly + 6.4).attr('font-size', 18).text(s.name);
  });

  // amorphous reference line in (d)
  ann.append('line')
    .attr('x1', X0).attr('x2', X1)
    .attr('y1', pd.y(amorphousRings)).attr('y2', pd.y(amorphousRings))
    .attr('stroke', 'red').attr('stroke-width', 1.3);
  rich(ann, x(295.4), pd.y(5.04) + 5.5, ['SiO', ['2', 'sub'], ' amorphous'], { size: 16, color: 'red' });

  // x label
  svg.append('text')
    .attr('x', (X0 + X1) / 2).attr('y', 1598)
    .attr('text-anchor', 'middle').attr('font-size', 18)
    .text('Training configuration index');
})();
</script>
</body>
</html>
